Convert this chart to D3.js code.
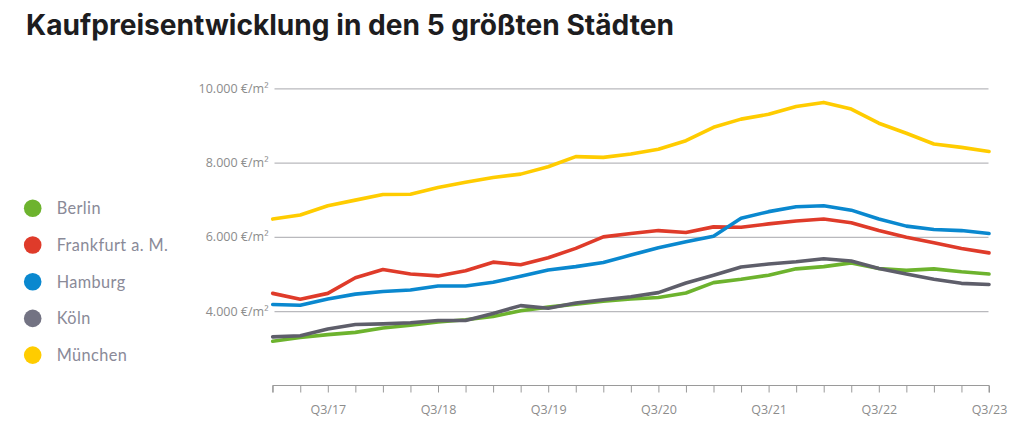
<!DOCTYPE html>
<html><head><meta charset="utf-8">
<script src="https://cdn.jsdelivr.net/npm/d3@7"></script>
<style>
html,body{margin:0;padding:0;background:#fff;}
svg{display:block;}
</style></head>
<body>
<svg id="chart" width="1018" height="427"></svg>
<script>
const quarters = ["Q1/17","Q2/17","Q3/17","Q4/17","Q1/18","Q2/18","Q3/18","Q4/18","Q1/19","Q2/19","Q3/19","Q4/19","Q1/20","Q2/20","Q3/20","Q4/20","Q1/21","Q2/21","Q3/21","Q4/21","Q1/22","Q2/22","Q3/22","Q4/22","Q1/23","Q2/23","Q3/23"];
const tickLabels = ["Q3/17","Q3/18","Q3/19","Q3/20","Q3/21","Q3/22","Q3/23"];
const yTicks = [4000, 6000, 8000, 10000];
const cities = ["Berlin","Frankfurt a. M.","Hamburg","Köln","München"];
const colors = ["#6db32e","#df3b2a","#0a88cf","#5e5e6a","#ffcc00"];
const legendColors = ["#6db32e","#df3b2a","#0a88cf","#737383","#ffcc00"];
const berlin    = [3190,3290,3370,3430,3550,3620,3710,3770,3860,4010,4110,4190,4270,4330,4370,4490,4770,4860,4970,5140,5200,5300,5150,5100,5140,5060,5000];
const frankfurt = [4480,4320,4480,4900,5120,5000,4950,5090,5320,5250,5440,5690,6000,6090,6170,6120,6270,6260,6350,6430,6480,6380,6170,5990,5840,5690,5570];
const hamburg   = [4180,4160,4330,4460,4530,4570,4680,4680,4780,4940,5110,5200,5310,5510,5710,5870,6020,6500,6680,6810,6840,6720,6480,6290,6200,6170,6090];
const koeln     = [3310,3340,3520,3640,3660,3690,3750,3750,3940,4150,4080,4220,4310,4390,4500,4760,4970,5190,5270,5330,5410,5350,5150,5000,4860,4750,4720];
const muenchen  = [6480,6590,6840,6990,7140,7150,7330,7470,7600,7690,7890,8160,8140,8230,8360,8590,8950,9170,9300,9510,9620,9440,9060,8790,8500,8410,8300];
const seriesValues = [berlin, frankfurt, hamburg, koeln, muenchen];

const svg = d3.select("#chart");
const x = d3.scalePoint().domain(quarters).range([272.7, 989]);
const y = d3.scaleLinear().domain([2000, 10000]).range([385.5, 88.3]);
const fmt = v => d3.format(",")(v).replace(/,/g, ".") + " €/m²";

// title
svg.append("text")
  .attr("x", 26).attr("y", 34.5)
  .attr("font-family", "Inter, 'Open Sans', sans-serif")
  .attr("font-weight", 700).attr("font-size", 28)
  .attr("fill", "#1d1d1f")
  .attr("textLength", 648).attr("lengthAdjust", "spacingAndGlyphs")
  .text("Kaufpreisentwicklung in den 5 größten Städten");

// grid
const gridG = svg.append("g")
  .call(d3.axisLeft(y).tickValues(yTicks).tickSize(-(988.5 - 274.5)).tickFormat(fmt).tickPadding(6))
  .attr("transform", "translate(274.5,0)");
gridG.select(".domain").remove();
gridG.selectAll(".tick line").attr("stroke", "#b9b9bd").attr("stroke-width", 1.2);
gridG.selectAll(".tick text")
  .attr("font-family", "'Open Sans', sans-serif").attr("font-size", 12.5)
  .attr("fill", "#8c8c8c");

// x axis
const xAxisG = svg.append("g").attr("transform", "translate(0,385.5)")
  .call(d3.axisBottom(x).tickSizeOuter(0).tickSize(7)
    .tickFormat(d => tickLabels.includes(d) ? d : ""));
xAxisG.select(".domain").attr("stroke", "#9a9a9a").attr("d", `M${x(quarters[0])},7V0H${x(quarters[quarters.length-1])}V7`);
xAxisG.selectAll(".tick line").attr("stroke", "#9a9a9a");
xAxisG.selectAll(".tick text")
  .attr("font-family", "'Open Sans', sans-serif").attr("font-size", 12.5)
  .attr("fill", "#8c8c8c").attr("dy", "1.5em");

// lines
const line = d3.line().x((d, i) => x(quarters[i])).y(d => y(d));
svg.append("g").selectAll("path").data(seriesValues).join("path")
  .attr("d", d => line(d))
  .attr("fill", "none")
  .attr("stroke", (d, i) => colors[i])
  .attr("stroke-width", 3.6)
  .attr("stroke-linejoin", "round")
  .attr("stroke-linecap", "round");

// legend
const leg = svg.append("g").selectAll("g").data(cities).join("g")
  .attr("transform", (d, i) => `translate(32.7,${208.3 + i * 36.7})`);
leg.append("circle").attr("r", 8.8).attr("fill", (d, i) => legendColors[i]);
leg.append("text").attr("x", 24).attr("dy", "0.36em")
  .attr("font-family", "Lato, 'Open Sans', sans-serif").attr("font-size", 16.3)
  .attr("letter-spacing", 0.4)
  .attr("fill", "#8a8a98").text(d => d);
</script>
</body></html>
